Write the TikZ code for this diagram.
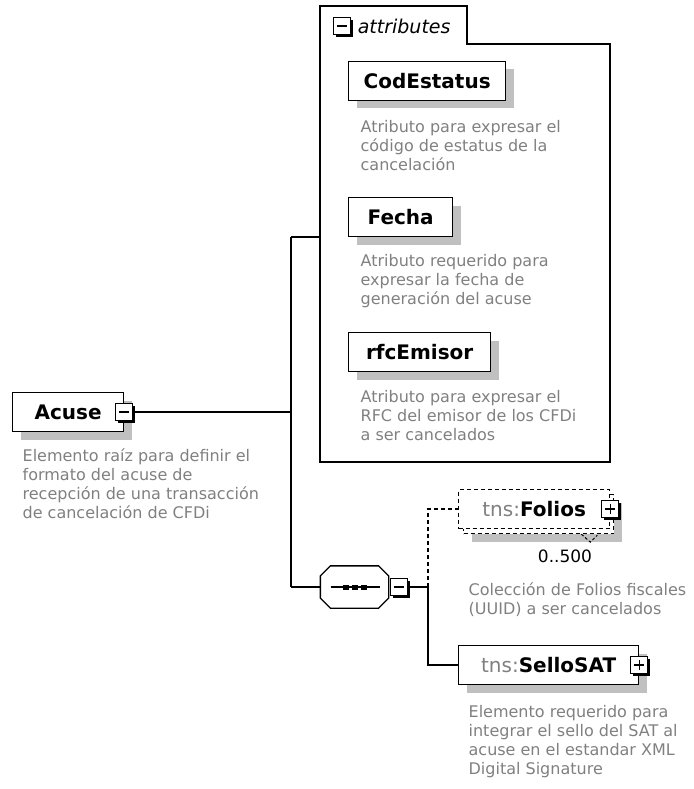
\documentclass[tikz,border=0pt]{standalone}
\usepackage{fontspec}
\setmainfont{DejaVu Sans}
\usepackage{tikz}
\usetikzlibrary{positioning,calc,shadows}
\definecolor{DescGray}{RGB}{128,128,128}
\definecolor{ShadowGray}{RGB}{192,192,192}

% octagon round a node: \seqshape{node}
\newcommand{\seqshape}[1]{([xshift=10pt]#1.north west) -- ([xshift=-10pt]#1.north east)
  -- ([yshift=-10pt]#1.north east) -- ([yshift=10pt]#1.south east)
  -- ([xshift=-10pt]#1.south east) -- ([xshift=10pt]#1.south west)
  -- ([yshift=10pt]#1.south west) -- ([yshift=-10pt]#1.north west) -- cycle}

\begin{document}
\begin{tikzpicture}[x=1pt,y=-1pt,line width=1.3pt,
  namebox/.style={draw,fill=white,minimum height=39pt,inner sep=0pt,
    font=\fontsize{20}{24}\selectfont\bfseries},
  shadowed/.style={general shadow={fill=ShadowGray,shadow xshift=8pt,shadow yshift=-8pt}},
  elem/.style={namebox,shadowed},
  togbox/.style={draw,fill=white,minimum size=17pt,inner sep=0pt,line width=1.2pt,
    general shadow={fill=black,shadow xshift=2.5pt,shadow yshift=-2.5pt}},
  minusbox/.style={togbox,path picture={
    \draw[line width=1.2pt] ([xshift=3.5pt]path picture bounding box.west)
      -- ([xshift=-3.5pt]path picture bounding box.east);}},
  plusbox/.style={togbox,path picture={
    \draw[line width=1.2pt] ([xshift=3.5pt]path picture bounding box.west)
      -- ([xshift=-3.5pt]path picture bounding box.east);
    \draw[line width=1.2pt] ([yshift=-3.5pt]path picture bounding box.north)
      -- ([yshift=3.5pt]path picture bounding box.south);}},
  seqbox/.style={minimum width=67pt,minimum height=41pt,inner sep=0pt},
  desc/.style={anchor=north west,align=left,inner sep=0pt,text=DescGray,
    font=\fontsize{16}{19}\selectfont},
  opt/.style={dash pattern=on 4pt off 3pt}]
  \useasboundingbox (0,0) rectangle (693,789);

  % Attribute group
  \draw (320,462) -- (320,6) -- (467,6) -- (467,44) -- (610,44) -- (610,462) -- cycle;
  \node[minusbox] (attrtog) at (342,26) {};
  \node[right=6pt of attrtog,inner sep=0pt,font=\fontsize{19}{22}\selectfont\itshape]
    (attrlbl) {attributes};
  \coordinate (attrin) at (320,237);

  \node[elem,minimum width=157pt,anchor=west] (codestatus) at (348,81) {CodEstatus};
  \node[desc] (codestatusdesc) at (360,120)
    {Atributo para expresar el\\código de estatus de la\\cancelación};
  \node[elem,minimum width=104pt,anchor=west] (fecha) at (348,217) {Fecha};
  \node[desc] (fechadesc) at (360,254)
    {Atributo requerido para\\expresar la fecha de\\generación del acuse};
  \node[elem,minimum width=142pt,anchor=west] (rfcemisor) at (348,352) {rfcEmisor};
  \node[desc] (rfcemisordesc) at (360,390)
    {Atributo para expresar el\\RFC del emisor de los CFDi\\a ser cancelados};

  % Root element
  \node[elem,minimum width=111pt,anchor=west] (acuse) at (12,412) {Acuse\hspace{6pt}};
  \node[minusbox] (acusetog) at (acuse.east) {};
  \node[desc] (acusedesc) at (22,448)
    {Elemento raíz para definir el\\formato del acuse de\\recepción de una transacción\\de cancelación de CFDi};

  % Sequence
  \node[seqbox] (seq) at (354.5,587) {};
  \fill[ShadowGray,shift={(8,8)}] \seqshape{seq};
  \draw[fill=white] \seqshape{seq};
  \draw ([xshift=-24pt]seq.center) -- ([xshift=25pt]seq.center);
  \foreach \dx in {-9,0,9}
    \fill ([xshift=\dx pt]seq.center) ++(-3,-2.5) rectangle ++(6,5);
  \node[minusbox,anchor=west] (seqtog) at ([xshift=1pt]seq.east) {};
  \coordinate (branch) at (428,587);

  % Folios (0..500)
  \node[namebox,opt,shadowed,minimum width=150pt,anchor=west] (foliosbk) at (463,514) {};
  \node[namebox,opt,minimum width=151pt,anchor=west] (folios) at (458,509)
    {\textcolor{DescGray}{\mdseries tns:}Folios\hspace{10pt}};
  \node[plusbox] (foliostog) at (folios.east) {};
  \draw[dash pattern=on 3pt off 2pt,line width=1pt]
    ([xshift=-33pt]foliosbk.south east) -- ++(9,8) -- ++(7,-7);
  \node[inner sep=0pt,font=\fontsize{17}{20}\selectfont] (foliosocc) at (565,556) {0..500};
  \node[desc] (foliosdesc) at (468,582)
    {Colección de Folios fiscales\\(UUID) a ser cancelados};

  % SelloSAT
  \node[elem,minimum width=180pt,anchor=west] (sellosat) at (458,665)
    {\textcolor{DescGray}{\mdseries tns:}SelloSAT\hspace{8pt}};
  \node[plusbox] (sellotog) at (sellosat.east) {};
  \node[desc] (sellosatdesc) at (468,705)
    {Elemento requerido para\\integrar el sello del SAT al\\acuse en el estandar XML\\Digital Signature};

  % Connectors
  \coordinate (trunktop) at (291,237);
  \coordinate (trunkbot) at (291,587);
  \draw (acusetog.east) -- (acusetog.east -| trunktop);
  \draw (trunktop) -- (trunkbot);
  \draw (trunktop) -- (attrin);
  \draw (trunkbot) -- (seq.west);
  \draw (seqtog.east) -- (branch);
  \draw[opt] (branch) |- (folios.west);
  \draw (branch) |- (sellosat.west);
\end{tikzpicture}
\end{document}
